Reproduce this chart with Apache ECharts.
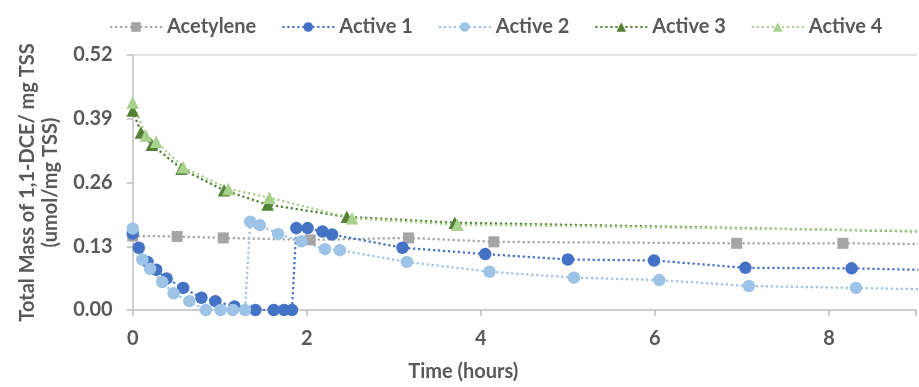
<!DOCTYPE html>
<html>
<head>
<meta charset="utf-8">
<script src="https://cdn.jsdelivr.net/npm/echarts@6/dist/echarts.min.js"></script>
<style>
html,body{margin:0;padding:0;background:#fff;}
#c{width:919px;height:387px;}
</style>
</head>
<body>
<div id="c"></div>
<script>
// ---- data (hours, umol/mg TSS) ----
const seriesNames = ["Acetylene", "Active 1", "Active 2", "Active 3", "Active 4"];

const acetyleneX = [0, 0.51, 1.04, 2.04, 3.17, 4.15, 6.94, 8.16, 10];
const acetyleneY = [0.151, 0.150, 0.147, 0.143, 0.147, 0.139, 0.136, 0.136, 0.133];

const active1X = [0, 0.07, 0.17, 0.27, 0.39, 0.58, 0.79, 0.95, 1.17, 1.41, 1.62, 1.74, 1.83, 1.88, 2.01, 2.18, 2.29, 3.10, 4.05, 5.00, 5.99, 7.04, 8.26, 10];
const active1Y = [0.156, 0.127, 0.098, 0.082, 0.064, 0.045, 0.025, 0.018, 0.007, 0, 0, 0, 0, 0.167, 0.167, 0.160, 0.154, 0.127, 0.114, 0.103, 0.101, 0.086, 0.085, 0.078];

const active2X = [0, 0.11, 0.20, 0.34, 0.47, 0.65, 0.84, 1.01, 1.15, 1.29, 1.35, 1.46, 1.67, 1.94, 2.21, 2.38, 3.15, 4.10, 5.07, 6.05, 7.08, 8.31, 10];
const active2Y = [0.166, 0.103, 0.084, 0.057, 0.034, 0.018, 0, 0, 0, 0, 0.180, 0.173, 0.155, 0.140, 0.124, 0.122, 0.098, 0.078, 0.066, 0.061, 0.049, 0.045, 0.039];

const active3X = [0, 0.095, 0.22, 0.56, 1.05, 1.55, 2.46, 3.70, 10];
const active3Y = [0.407, 0.362, 0.337, 0.288, 0.244, 0.215, 0.190, 0.178, 0.157];

const active4X = [0, 0.15, 0.27, 0.58, 1.10, 1.57, 2.52, 3.73, 10];
const active4Y = [0.423, 0.356, 0.343, 0.291, 0.247, 0.229, 0.187, 0.174, 0.159];

const xTicks = [0, 2, 4, 6, 8];
const yTicks = [0.00, 0.13, 0.26, 0.39, 0.52];

const xTitle = "Time (hours)";
const yTitle = "Total Mass of 1,1-DCE/ mg TSS\n(umol/mg TSS)";

// ---- build ----
const FONT = "Lato";
const TXT = "#595959";
function pairs(xs, ys) { return xs.map((x, i) => [x, ys[i]]); }

const styles = [
  { color: "#A5A5A5", symbol: "rect", size: 11 },
  { color: "#4472C4", symbol: "circle", size: 12.5 },
  { color: "#9DC3E6", symbol: "circle", size: 12.5 },
  { color: "#548235", symbol: "triangle", size: 12.5 },
  { color: "#A9D18E", symbol: "triangle", size: 12.5 }
];
const dataSets = [
  pairs(acetyleneX, acetyleneY),
  pairs(active1X, active1Y),
  pairs(active2X, active2Y),
  pairs(active3X, active3Y),
  pairs(active4X, active4Y)
];

const series = seriesNames.map((n, i) => ({
  name: n,
  type: "line",
  data: dataSets[i],
  symbol: styles[i].symbol,
  symbolSize: styles[i].size,
  showAllSymbol: true,
  clip: true,
  itemStyle: { color: styles[i].color },
  lineStyle: { color: styles[i].color, width: 2.25, type: [2.25, 2.75] },
  emphasis: { disabled: true },
  animation: false
}));

const chart = echarts.init(document.getElementById("c"), null, { renderer: "canvas" });
chart.setOption({
  animation: false,
  legend: {
    data: seriesNames,
    top: 12,
    left: 104,
    itemWidth: 52,
    itemHeight: 12,
    itemGap: 25,
    textStyle: { fontFamily: FONT, fontSize: 20, fontWeight: "bold", color: TXT }
  },
  grid: { left: 132.7, right: -3, top: 55, bottom: 65, containLabel: false },
  xAxis: [{
    type: "value",
    min: 0, max: 9, interval: 2,
    name: xTitle,
    nameLocation: "middle",
    nameGap: 52,
    nameTextStyle: { fontFamily: FONT, fontSize: 20, fontWeight: "bold", color: TXT, align: "right", padding: [0, 6, 0, 0] },
    axisLine: { show: true, lineStyle: { color: "#BFBFBF", width: 1.5 } },
    axisTick: { show: true, length: 6, lineStyle: { color: "#BFBFBF", width: 1.5 } },
    axisLabel: {
      margin: 19, fontFamily: FONT, fontSize: 20, fontWeight: "bold", color: TXT,
      formatter: v => (xTicks.indexOf(v) >= 0 ? String(v) : "")
    },
    splitLine: { show: false }
  }, {
    type: "value", position: "top", min: 0, max: 9,
    axisLine: { show: true, onZero: false, lineStyle: { color: "#D9D9D9", width: 1.5 } },
    axisTick: { show: false }, axisLabel: { show: false }, splitLine: { show: false }
  }],
  yAxis: {
    type: "value",
    min: 0, max: 0.52, interval: 0.13,
    name: yTitle,
    nameLocation: "middle",
    nameGap: 67,
    nameTextStyle: { fontFamily: FONT, fontSize: 20, fontWeight: "bold", color: TXT, lineHeight: 23 },
    axisLine: { show: true, lineStyle: { color: "#BFBFBF", width: 1.5 } },
    axisTick: { show: true, length: 6, lineStyle: { color: "#BFBFBF", width: 1.5 } },
    axisLabel: {
      margin: 20, fontFamily: FONT, fontSize: 20, fontWeight: "bold", color: TXT,
      formatter: v => v.toFixed(2)
    },
    splitLine: { show: false }
  },
  series: series
});
</script>
</body>
</html>
